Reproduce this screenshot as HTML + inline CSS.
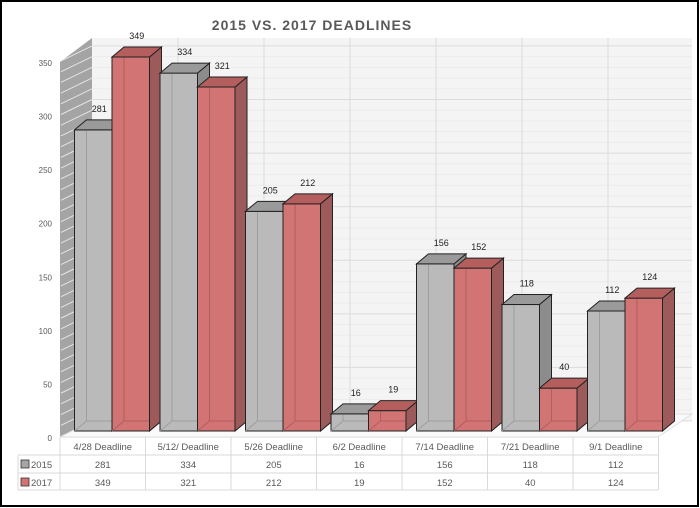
<!DOCTYPE html>
<html><head><meta charset="utf-8"><style>
html,body{margin:0;padding:0;background:#fff}
svg{display:block}
text{font-family:"Liberation Sans",sans-serif}
</style></head><body>
<svg id="s" width="700" height="508" xmlns="http://www.w3.org/2000/svg">
<rect x="1" y="1" width="697" height="505" fill="#fff" stroke="#000" stroke-width="2"/>
<text x="312" y="30" text-anchor="middle" font-size="14" font-weight="bold" fill="#595959" letter-spacing="1">2015 VS. 2017 DEADLINES</text>
<g id="g"></g>
</svg>
<script>
var g=document.getElementById('g'),h='';
var base=431,k=374/349,dx=12,dy=-10;
h+='<rect x="92" y="38" width="600" height="383" fill="#f4f4f4"/>';
h+='<polygon points="60,62 92,38 92,421 60,437" fill="#a4a4a4"/>';
for(var v=0;v<=350;v+=10){var yb=421-k*v,yf=437-k*v;
 h+='<line x1="92" y1="'+yb+'" x2="692" y2="'+yb+'" stroke="'+(v%50?'#ececec':'#dcdcdc')+'" stroke-width="1"/>';
 if(v>0)h+='<line x1="61" y1="'+(yf-1)+'" x2="92" y2="'+yb+'" stroke="#e4e4e4" stroke-width="1"/>';}
for(var i=1;i<7;i++){var x=92+i*86;h+='<line x1="'+x+'" y1="38" x2="'+x+'" y2="421" stroke="#dcdcdc"/>';}
h+='<polygon points="60,437 92,421 692,414 658,437" fill="#fafafa" stroke="#e0e0e0"/>';
for(var v=0;v<=350;v+=50){h+='<text x="52" y="'+(441-k*v)+'" text-anchor="end" font-size="8" fill="#595959">'+v+'</text>';}
var d1=[281,334,205,16,156,118,112],d2=[349,321,212,19,152,40,124];
var labs=['4/28 Deadline','5/12/ Deadline','5/26 Deadline','6/2 Deadline','7/14 Deadline','7/21 Deadline','9/1 Deadline'];
function bar(x,v,c){var w=37.5,t=base-k*v,s='';
 s+='<rect x="'+x+'" y="'+t+'" width="'+w+'" height="'+(base-t)+'" fill="'+c[0]+'" stroke="#222" stroke-width="1"/>';
 s+='<line x1="'+(x+dx)+'" y1="'+(t+dy)+'" x2="'+(x+dx)+'" y2="'+(base+dy)+'" stroke="'+c[3]+'" stroke-width="1"/>';
 s+='<line x1="'+(x+dx)+'" y1="'+(base+dy)+'" x2="'+(x+w+dx)+'" y2="'+(base+dy)+'" stroke="'+c[3]+'" stroke-width="1"/>';
 s+='<line x1="'+x+'" y1="'+base+'" x2="'+(x+dx)+'" y2="'+(base+dy)+'" stroke="'+c[3]+'" stroke-width="1"/>';
 s+='<polygon points="'+(x+w)+','+t+' '+(x+w+dx)+','+(t+dy)+' '+(x+w+dx)+','+(base+dy)+' '+(x+w)+','+base+'" fill="'+c[1]+'" stroke="#222" stroke-width="1"/>';
 s+='<polygon points="'+x+','+t+' '+(x+dx)+','+(t+dy)+' '+(x+w+dx)+','+(t+dy)+' '+(x+w)+','+t+'" fill="'+c[2]+'" stroke="#222" stroke-width="1"/>';
 s+='<text x="'+(x+w/2+6)+'" y="'+(t-18)+'" text-anchor="middle" font-size="9" fill="#222">'+v+'</text>';return s;}
var gc=['#bababa','#8c8c8c','#9a9a9a','#9e9e9e'],rc=['#d27474','#9c5a5a','#b45e5e','#b05e5e'];
for(var i=0;i<7;i++){var cx=60+i*85.5+14.5;h+=bar(cx,d1[i],gc);h+=bar(cx+37.5,d2[i],rc);}
var rows=[437,455,473,490];
h+='<rect x="60" y="437" width="598" height="18" fill="#fff"/><rect x="18" y="455" width="640" height="35" fill="#fff"/>';
for(var r=0;r<4;r++){var x0=r==0?60:18;h+='<line x1="'+x0+'" y1="'+rows[r]+'" x2="658" y2="'+rows[r]+'" stroke="#d9d9d9"/>';}
h+='<line x1="18" y1="455" x2="18" y2="490" stroke="#d9d9d9"/>';
for(var i=0;i<=7;i++){var x=60+i*85.5;h+='<line x1="'+x+'" y1="437" x2="'+x+'" y2="490" stroke="#d9d9d9"/>';}
for(var i=0;i<7;i++){var cx=60+i*85.5+42.75;
 h+='<text x="'+cx+'" y="450" text-anchor="middle" font-size="9.5" fill="#595959">'+labs[i]+'</text>';
 h+='<text x="'+cx+'" y="468" text-anchor="middle" font-size="9.5" fill="#595959">'+d1[i]+'</text>';
 h+='<text x="'+cx+'" y="486" text-anchor="middle" font-size="9.5" fill="#595959">'+d2[i]+'</text>';}
h+='<rect x="21" y="460" width="8" height="8" fill="#a6a6a6" stroke="#333" stroke-width="0.8"/><text x="31" y="468" font-size="9.5" fill="#595959">2015</text>';
h+='<rect x="21" y="478" width="8" height="8" fill="#d27474" stroke="#333" stroke-width="0.8"/><text x="31" y="486" font-size="9.5" fill="#595959">2017</text>';
g.innerHTML=h;
</script>
</body></html>
